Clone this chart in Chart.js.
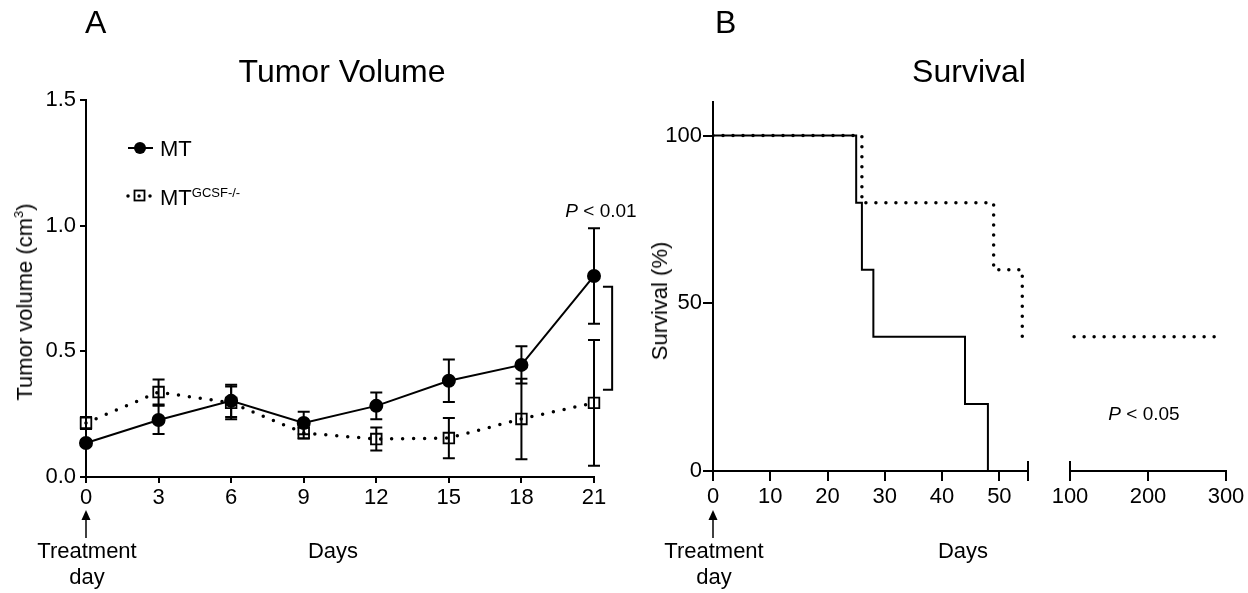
<!DOCTYPE html>
<html>
<head>
<meta charset="utf-8">
<script src="https://cdn.jsdelivr.net/npm/chart.js@4.4.1/dist/chart.umd.min.js"></script>
<style>
  body { margin: 0; background: #fff; width: 1248px; height: 593px; overflow: hidden; position: relative;
         font-family: 'Liberation Sans', Arial, sans-serif; color: #000; }
  canvas { position: absolute; top: 0; }
  .t { position: absolute; white-space: nowrap; line-height: 1; }
  .c { transform: translateX(-50%); text-align: center; }
  .rot { transform: translate(-50%, -50%) rotate(-90deg); }
</style>
</head>
<body>
<canvas id="volChart" width="640" height="593" style="left:0"></canvas>
<canvas id="survEarly" width="400" height="593" style="left:640px"></canvas>
<canvas id="survLate" width="208" height="593" style="left:1040px"></canvas>

<div class="t" style="left:85px;top:6px;font-size:32px">A</div>
<div class="t" style="left:715px;top:6px;font-size:32px">B</div>
<div class="t c" style="left:342px;top:55px;font-size:32px">Tumor Volume</div>
<div class="t c" style="left:969px;top:55px;font-size:32px">Survival</div>
<div class="t rot" style="left:25px;top:302px;font-size:22px">Tumor volume (cm<sup style="font-size:13px;vertical-align:9px;line-height:0">3</sup>)</div>
<div class="t rot" style="left:660px;top:301px;font-size:22px">Survival (%)</div>
<div class="t c" style="left:333px;top:540px;font-size:22px">Days</div>
<div class="t c" style="left:963px;top:540px;font-size:22px">Days</div>
<div class="t c" style="left:87px;top:538px;font-size:22px;line-height:26px">Treatment<br>day</div>
<div class="t c" style="left:714px;top:538px;font-size:22px;line-height:26px">Treatment<br>day</div>
<div class="t c" style="left:601px;top:201px;font-size:19px"><i>P</i> &lt; 0.01</div>
<div class="t c" style="left:1144px;top:404px;font-size:19px"><i>P</i> &lt; 0.05</div>

<script>
// Panel A: tumor volume (mean and SEM)
const days = [0, 3, 6, 9, 12, 15, 18, 21];
const mtVolume = [0.135, 0.227, 0.303, 0.215, 0.283, 0.383, 0.446, 0.800];
const mtSem = [0.010, 0.056, 0.064, 0.045, 0.053, 0.085, 0.074, 0.190];
const koVolume = [0.215, 0.338, 0.295, 0.175, 0.151, 0.155, 0.231, 0.295];
const koSem = [0.024, 0.050, 0.065, 0.022, 0.046, 0.080, 0.160, 0.250];
const volTicks = [0, 0.5, 1.0, 1.5];
const dayTicks = [0, 3, 6, 9, 12, 15, 18, 21];

// Panel B: survival steps
const survDaysMT = [0, 25, 26, 28, 44, 48];
const survMT = [100, 80, 60, 40, 20, 0];
const survDaysKO = [0, 26, 49, 54, 292];
const survKO = [100, 80, 60, 40, 40];
const survTicks = [0, 50, 100];
const earlyDayTicks = [0, 10, 20, 30, 40, 50];
const lateDayTicks = [100, 200, 300];

const black = '#000';
Chart.defaults.font.family = "'Liberation Sans', Arial, sans-serif";
Chart.defaults.font.size = 22;
Chart.defaults.color = black;

const toXY = (xs, ys) => xs.map((x, i) => ({ x, y: ys[i] }));
const setTicks = list => s => { s.ticks = list.map(v => ({ value: v })); };

const errorBars = {
  id: 'errorBars',
  beforeDatasetsDraw(chart) {
    const { ctx, scales: { x, y } } = chart;
    ctx.save();
    ctx.strokeStyle = black;
    ctx.lineWidth = 2;
    chart.data.datasets.forEach(ds => {
      ds.data.forEach((p, i) => {
        const px = x.getPixelForValue(p.x);
        const top = y.getPixelForValue(p.y + ds.sem[i]);
        const bot = y.getPixelForValue(p.y - ds.sem[i]);
        ctx.beginPath();
        ctx.moveTo(px, top); ctx.lineTo(px, bot);
        ctx.moveTo(px - 6, top); ctx.lineTo(px + 6, top);
        ctx.moveTo(px - 6, bot); ctx.lineTo(px + 6, bot);
        ctx.stroke();
      });
    });
    ctx.restore();
  }
};

// significance bracket next to day 21
const bracket = {
  id: 'bracket',
  afterDatasetsDraw(chart) {
    const { ctx, scales: { x, y } } = chart;
    const xr = x.getPixelForValue(21.75), xl = x.getPixelForValue(21.37);
    const yt = y.getPixelForValue(0.757), yb = y.getPixelForValue(0.347);
    ctx.save();
    ctx.strokeStyle = black;
    ctx.lineWidth = 2;
    ctx.beginPath();
    ctx.moveTo(xl, yt); ctx.lineTo(xr, yt); ctx.lineTo(xr, yb); ctx.lineTo(xl, yb);
    ctx.stroke();
    ctx.restore();
  }
};

const legendA = {
  id: 'legendA',
  afterDraw(chart) {
    const ctx = chart.ctx;
    ctx.save();
    ctx.strokeStyle = black;
    ctx.fillStyle = black;
    // MT
    ctx.lineWidth = 2;
    ctx.beginPath(); ctx.moveTo(128, 148); ctx.lineTo(153, 148); ctx.stroke();
    ctx.beginPath(); ctx.arc(140, 148, 6, 0, Math.PI * 2); ctx.fill();
    // MT GCSF-/-
    ctx.lineWidth = 3.5;
    ctx.lineCap = 'round';
    ctx.setLineDash([0, 11]);
    ctx.beginPath(); ctx.moveTo(128, 196); ctx.lineTo(153, 196); ctx.stroke();
    ctx.setLineDash([]);
    ctx.lineWidth = 1.8;
    ctx.strokeRect(134.5, 190.5, 10, 10);
    ctx.font = "22px 'Liberation Sans', Arial, sans-serif";
    ctx.textBaseline = 'alphabetic';
    ctx.fillText('MT', 160, 156);
    ctx.fillText('MT', 160, 205);
    const w = ctx.measureText('MT').width;
    ctx.font = "13px 'Liberation Sans', Arial, sans-serif";
    ctx.fillText('GCSF-/-', 160 + w, 197);
    ctx.restore();
  }
};

// arrow pointing at day 0 ("Treatment day")
const treatArrow = {
  id: 'treatArrow',
  afterDraw(chart) {
    const ctx = chart.ctx;
    const px = Math.round(chart.scales.x.getPixelForValue(0));
    ctx.save();
    ctx.strokeStyle = black;
    ctx.fillStyle = black;
    ctx.lineWidth = 1.5;
    ctx.beginPath(); ctx.moveTo(px, 538); ctx.lineTo(px, 516); ctx.stroke();
    ctx.beginPath(); ctx.moveTo(px, 510); ctx.lineTo(px - 4.5, 520); ctx.lineTo(px + 4.5, 520); ctx.closePath(); ctx.fill();
    ctx.restore();
  }
};

// tall tick marking the axis break
const breakMark = {
  id: 'breakMark',
  afterDraw(chart, args, opts) {
    const { ctx, scales: { x }, chartArea } = chart;
    const px = x.getPixelForValue(opts.value);
    ctx.save();
    ctx.strokeStyle = black;
    ctx.lineWidth = 2;
    ctx.beginPath();
    ctx.moveTo(px, chartArea.bottom - 10); ctx.lineTo(px, chartArea.bottom + 10);
    ctx.stroke();
    ctx.restore();
  }
};

new Chart(document.getElementById('volChart'), {
  type: 'line',
  data: {
    datasets: [
      {
        label: 'MT', data: toXY(days, mtVolume), sem: mtSem,
        borderColor: black, borderWidth: 2, clip: false,
        pointStyle: 'circle', pointRadius: 6, pointBackgroundColor: black, pointBorderColor: black
      },
      {
        label: 'MT GCSF-/-', data: toXY(days, koVolume), sem: koSem,
        borderColor: black, borderWidth: 3.5, borderDash: [0, 11], borderCapStyle: 'round', clip: false,
        pointStyle: 'rect', pointRadius: 7.5, pointBackgroundColor: 'rgba(0,0,0,0)',
        pointBorderColor: black, pointBorderWidth: 1.8
      }
    ]
  },
  options: {
    responsive: false,
    animation: false,
    events: [],
    layout: { padding: { left: 0, top: 100, right: 46, bottom: 76 } },
    plugins: { legend: { display: false }, tooltip: { enabled: false } },
    scales: {
      x: {
        type: 'linear', min: 0, max: 21,
        afterBuildTicks: setTicks(dayTicks),
        afterFit: s => { s.height = 40; },
        ticks: { padding: 2, maxRotation: 0 },
        grid: { drawOnChartArea: false, tickLength: 6, color: black, lineWidth: 2 },
        border: { color: black, width: 2 }
      },
      y: {
        min: 0, max: 1.5,
        afterBuildTicks: setTicks(volTicks),
        afterFit: s => { s.width = 86; },
        ticks: { padding: 4, callback: v => v.toFixed(1) },
        grid: { drawOnChartArea: false, tickLength: 6, color: black, lineWidth: 2 },
        border: { color: black, width: 2 }
      }
    }
  },
  plugins: [errorBars, bracket, legendA, treatArrow]
});

function survivalSets() {
  return [
    {
      data: toXY(survDaysKO, survKO), stepped: 'before',
      borderColor: black, borderWidth: 3.5, borderDash: [0, 10], borderCapStyle: 'round', pointRadius: 0
    },
    {
      data: toXY(survDaysMT, survMT), stepped: 'before',
      borderColor: black, borderWidth: 2, pointRadius: 0
    }
  ];
}

function survivalOptions(xMin, xMax, xTicks, padding, showY, breakAt) {
  return {
    responsive: false,
    animation: false,
    events: [],
    layout: { padding },
    plugins: { legend: { display: false }, tooltip: { enabled: false }, breakMark: { value: breakAt } },
    scales: {
      x: {
        type: 'linear', min: xMin, max: xMax,
        afterBuildTicks: setTicks(xTicks),
        afterFit: s => { s.height = 40; },
        ticks: { padding: 3, maxRotation: 0 },
        grid: { drawOnChartArea: false, tickLength: 10, color: black, lineWidth: 2 },
        border: { color: black, width: 2 }
      },
      y: {
        display: showY, min: 0, max: 110,
        afterBuildTicks: setTicks(survTicks),
        afterFit: s => { s.width = showY ? 73 : 0; },
        ticks: { padding: 1 },
        grid: { drawOnChartArea: false, tickLength: 10, color: black, lineWidth: 2 },
        border: { color: black, width: 2 }
      }
    }
  };
}

new Chart(document.getElementById('survEarly'), {
  type: 'line',
  data: { datasets: survivalSets() },
  options: survivalOptions(0, 55, earlyDayTicks, { left: 0, top: 102, right: 12, bottom: 82 }, true, 55),
  plugins: [breakMark, treatArrow]
});

new Chart(document.getElementById('survLate'), {
  type: 'line',
  data: { datasets: survivalSets() },
  options: survivalOptions(100, 300, lateDayTicks, { left: 30, top: 102, right: 22, bottom: 82 }, false, 100),
  plugins: [breakMark]
});
</script>
</body>
</html>
